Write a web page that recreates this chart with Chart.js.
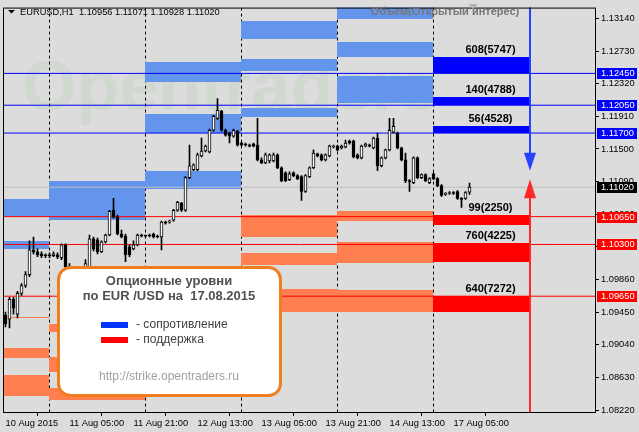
<!DOCTYPE html>
<html lang="ru">
<head>
<meta charset="UTF-8">
<title>EURUSD H1 - опционные уровни</title>
<script src="https://cdn.jsdelivr.net/npm/chart.js"></script>
<style>
  html, body { margin: 0; padding: 0; background: #dcdcdc; }
</style>
</head>
<body>
<canvas id="chart" width="639" height="432"></canvas>
<script>
// hour 0 = 11 Aug 00:00, weekend hours skipped (hour 96 = 17 Aug 00:00)
const firstHour = -11;
const opens = [
  1.09413, 1.09363, 1.09612, 1.09425, 1.09686, 1.09785, 1.09922, 1.10233, 1.10208, 1.10183, 1.10171,
  1.10171, 1.10158, 1.10171, 1.10133, 1.10295, 1.10022, 1.09897, 1.09773, 1.09860, 1.09960, 1.09984, 1.10370,
  1.10357, 1.10208, 1.10332, 1.10419, 1.10730, 1.10643, 1.10432, 1.10407, 1.10270, 1.10245, 1.10295, 1.10419,
  1.10407, 1.10419, 1.10432, 1.10407, 1.10394, 1.10581, 1.10581, 1.10606, 1.10730, 1.10817, 1.10730, 1.11140,
  1.11239, 1.11239, 1.11413, 1.11475, 1.11463, 1.11736, 1.11885, 1.11972, 1.11736, 1.11699, 1.11662, 1.11724,
  1.11575, 1.11562, 1.11550, 1.11562, 1.11550, 1.11363, 1.11326, 1.11351, 1.11351, 1.11426, 1.11264, 1.11202,
  1.11115, 1.11202, 1.11165, 1.11152, 1.10966, 1.11152, 1.11264, 1.11438, 1.11426, 1.11363, 1.11413, 1.11525,
  1.11537, 1.11512, 1.11525, 1.11599, 1.11599, 1.11426, 1.11388, 1.11537, 1.11550, 1.11512, 1.11637, 1.11289,
  1.11388, 1.11488, 1.11711, 1.11699, 1.11512, 1.11363, 1.11102, 1.11078, 1.11388, 1.11140, 1.11177, 1.11078,
  1.11189, 1.11127, 1.11040, 1.10929, 1.10941, 1.10953, 1.10966, 1.10879, 1.10879, 1.10956
];
const highs = [
  1.09450, 1.09637, 1.09637, 1.09711, 1.09810, 1.09960, 1.10345, 1.10394, 1.10245, 1.10208, 1.10183,
  1.10196, 1.10208, 1.10196, 1.10307, 1.10307, 1.10059, 1.09960, 1.09897, 1.09984, 1.10109, 1.10419, 1.10394,
  1.10382, 1.10345, 1.10432, 1.10730, 1.10879, 1.10668, 1.10481, 1.10432, 1.10295, 1.10345, 1.10432, 1.10432,
  1.10419, 1.10432, 1.10444, 1.10419, 1.10593, 1.10593, 1.10606, 1.10742, 1.10842, 1.10829, 1.11152, 1.11550,
  1.11314, 1.11450, 1.11637, 1.11550, 1.11749, 1.11923, 1.12134, 1.11985, 1.11749, 1.11711, 1.11749, 1.11736,
  1.11587, 1.11575, 1.11562, 1.11575, 1.11885, 1.11388, 1.11450, 1.11438, 1.11450, 1.11438, 1.11276, 1.11214,
  1.11214, 1.11214, 1.11177, 1.11165, 1.11177, 1.11276, 1.11488, 1.11450, 1.11438, 1.11438, 1.11550, 1.11550,
  1.11550, 1.11550, 1.11612, 1.11612, 1.11612, 1.11438, 1.11550, 1.11575, 1.11562, 1.11649, 1.11699, 1.11401,
  1.11500, 1.11885, 1.11885, 1.11711, 1.11525, 1.11450, 1.11115, 1.11401, 1.11401, 1.11189, 1.11189, 1.11140,
  1.11202, 1.11140, 1.11053, 1.10953, 1.10966, 1.10966, 1.10978, 1.10891, 1.10966, 1.11071
];
const lows = [
  1.09264, 1.09251, 1.09425, 1.09376, 1.09661, 1.09761, 1.09897, 1.10183, 1.10146, 1.10133, 1.10133,
  1.10133, 1.10146, 1.10121, 1.10109, 1.09984, 1.09835, 1.09711, 1.09686, 1.09810, 1.09935, 1.09960, 1.10220,
  1.10183, 1.10196, 1.10320, 1.10407, 1.10630, 1.10419, 1.10382, 1.10084, 1.10146, 1.10233, 1.10283, 1.10394,
  1.10394, 1.10394, 1.10382, 1.10382, 1.10233, 1.10556, 1.10568, 1.10593, 1.10717, 1.10717, 1.10717, 1.11127,
  1.11227, 1.11227, 1.11401, 1.11463, 1.11450, 1.11724, 1.11873, 1.11724, 1.11662, 1.11575, 1.11649, 1.11537,
  1.11537, 1.11537, 1.11525, 1.11525, 1.11351, 1.11314, 1.11314, 1.11326, 1.11339, 1.11252, 1.11090, 1.11090,
  1.11102, 1.11152, 1.11115, 1.10854, 1.10953, 1.11140, 1.11252, 1.11401, 1.11351, 1.11351, 1.11401, 1.11512,
  1.11475, 1.11500, 1.11512, 1.11562, 1.11388, 1.11376, 1.11376, 1.11525, 1.11525, 1.11500, 1.11227, 1.11276,
  1.11376, 1.11475, 1.11699, 1.11500, 1.11351, 1.11078, 1.10966, 1.11065, 1.11127, 1.11127, 1.11090, 1.11065,
  1.11115, 1.11028, 1.10904, 1.10916, 1.10929, 1.10929, 1.10867, 1.10767, 1.10867, 1.10928
];
const closes = [
  1.09301, 1.09612, 1.09500, 1.09686, 1.09785, 1.09922, 1.10233, 1.10208, 1.10171, 1.10158, 1.10158,
  1.10158, 1.10183, 1.10146, 1.10295, 1.10022, 1.09897, 1.09773, 1.09860, 1.09960, 1.10059, 1.10370, 1.10245,
  1.10208, 1.10332, 1.10419, 1.10717, 1.10643, 1.10432, 1.10394, 1.10171, 1.10171, 1.10295, 1.10419, 1.10407,
  1.10405, 1.10407, 1.10394, 1.10394, 1.10581, 1.10568, 1.10593, 1.10730, 1.10829, 1.10730, 1.11140, 1.11289,
  1.11301, 1.11426, 1.11475, 1.11537, 1.11736, 1.11910, 1.11985, 1.11736, 1.11674, 1.11662, 1.11736, 1.11550,
  1.11550, 1.11550, 1.11537, 1.11537, 1.11363, 1.11326, 1.11426, 1.11426, 1.11426, 1.11264, 1.11102, 1.11102,
  1.11189, 1.11165, 1.11127, 1.10966, 1.11165, 1.11264, 1.11450, 1.11413, 1.11363, 1.11426, 1.11537, 1.11537,
  1.11488, 1.11537, 1.11575, 1.11575, 1.11401, 1.11388, 1.11537, 1.11562, 1.11537, 1.11637, 1.11289, 1.11388,
  1.11488, 1.11736, 1.11786, 1.11512, 1.11363, 1.11102, 1.11090, 1.11388, 1.11140, 1.11177, 1.11102, 1.11127,
  1.11127, 1.11040, 1.10916, 1.10941, 1.10953, 1.10941, 1.10879, 1.10867, 1.10953, 1.11020
];

const hourTicks = [-11, 5, 21, 37, 53, 69, 85, 101];
const hourLabels = ['10 Aug 2015', '11 Aug 05:00', '11 Aug 21:00', '12 Aug 13:00',
  '13 Aug 05:00', '13 Aug 21:00', '14 Aug 13:00', '17 Aug 05:00'];
const dayStarts = [0, 24, 48, 72, 96];
const priceTicks = [1.0822, 1.0863, 1.0904, 1.0945, 1.0986, 1.1027, 1.1068,
  1.1109, 1.1150, 1.1191, 1.1232, 1.1273, 1.1314];

// levels for 17.08.2015
const resistLevels = [1.1245, 1.1205, 1.1170];
const resistTops = [1.12656, 1.12150, 1.11786];
const resistLabels = ['608(5747)', '140(4788)', '56(4528)'];
const supportLevels = [1.1065, 1.1030, 1.0965];
const supportTops = [1.10670, 1.10324, 1.09649];
const supportBottoms = [1.10540, 1.10084, 1.09454];
const supportLabels = ['99(2250)', '760(4225)', '640(7272)'];
const bidPrice = 1.1102;
const todayFrom = 96, todayTo = 120.25;
const arrowHour = 120.125;
const sellArrowTip = 1.11227, buyArrowTip = 1.11119;

// earlier sessions: [fromHour, toHour, low, high]
const pastResist = [
  [-11.375, 0, 1.10643, 1.10867], [-11.375, 0, 1.10245, 1.10345],
  [0, 24, 1.10606, 1.11100],
  [24, 48, 1.12345, 1.12593], [24, 48, 1.11699, 1.11935], [24, 48, 1.10991, 1.11227],
  [48, 72, 1.12879, 1.13103], [48, 72, 1.12482, 1.12631], [48, 72, 1.11898, 1.12010],
  [72, 96, 1.13128, 1.13300], [72, 96, 1.12656, 1.12842], [72, 96, 1.12084, 1.12420]
];
const pastSupport = [
  [-11.375, 0, 1.09370, 1.09390], [-11.375, 0, 1.08879, 1.09003], [-11.375, 0, 1.08400, 1.08655],
  [0, 24, 1.09202, 1.09301], [0, 24, 1.08692, 1.08891], [0, 24, 1.08344, 1.08494],
  [48, 72, 1.10394, 1.10668], [48, 72, 1.10047, 1.10196], [48, 72, 1.09450, 1.09736],
  [72, 96, 1.10593, 1.10717], [72, 96, 1.10071, 1.10332], [72, 96, 1.09450, 1.09724]
];

const axisFont = '9.3px "Liberation Sans"';
const X = (ch, v) => ch.scales.x.getPixelForValue(v);
const Y = (ch, v) => ch.scales.y.getPixelForValue(v);

function zone(c, ch, from, to, lo, hi) {
  const x0 = Math.floor(X(ch, from)), x1 = Math.floor(X(ch, to));
  const y0 = Math.round(Y(ch, hi)), y1 = Math.round(Y(ch, lo));
  c.fillRect(x0, y0, x1 - x0, Math.max(1, y1 - y0));
}

const levelsPlugin = {
  id: 'levels',
  beforeDraw(ch) {
    const c = ch.ctx;
    c.save();
    c.fillStyle = '#dcdcdc';
    c.fillRect(0, 0, ch.width, ch.height);
    c.restore();
  },
  beforeDatasetsDraw(ch) {
    const c = ch.ctx, a = ch.chartArea;
    c.save();
    c.beginPath();
    c.rect(a.left, a.top, a.right - a.left, a.bottom - a.top);
    c.clip();

    // watermark
    c.font = 'bold 70px "Liberation Sans"';
    c.fillStyle = 'rgba(160,200,160,0.2)';
    c.textBaseline = 'alphabetic';
    c.fillText('Opentraders', 22, 110);

    // day separators
    c.strokeStyle = '#000';
    c.lineWidth = 1;
    c.setLineDash([3, 3]);
    dayStarts.forEach(h => {
      const x = Math.floor(X(ch, h)) + 0.5;
      c.beginPath(); c.moveTo(x, a.top); c.lineTo(x, a.bottom); c.stroke();
    });
    c.setLineDash([]);

    c.fillStyle = '#6495ed';
    pastResist.forEach(z => zone(c, ch, z[0], z[1], z[2], z[3]));
    c.fillStyle = '#ff7f50';
    pastSupport.forEach(z => zone(c, ch, z[0], z[1], z[2], z[3]));

    // today's levels
    const lx = (Math.floor(X(ch, todayFrom)) + Math.floor(X(ch, todayTo))) / 2 + 9;
    c.font = 'bold 11px "Liberation Sans"';
    c.textAlign = 'center';
    c.textBaseline = 'middle';
    resistLevels.forEach((lv, i) => {
      c.fillStyle = '#0000ff';
      zone(c, ch, todayFrom, todayTo, lv, resistTops[i]);
      c.fillStyle = '#000';
      c.fillText(resistLabels[i], lx, Y(ch, resistTops[i]) - 7);
    });
    supportLevels.forEach((lv, i) => {
      c.fillStyle = '#ff0000';
      zone(c, ch, todayFrom, todayTo, supportBottoms[i], supportTops[i]);
      c.fillStyle = '#000';
      c.fillText(supportLabels[i], lx, Y(ch, supportTops[i]) - 7);
    });
    c.restore();
  },
  afterDatasetsDraw(ch) {
    const c = ch.ctx, a = ch.chartArea;
    const x = X(ch, arrowHour);
    c.save();
    // sell arrow (blue, down)
    let tip = Y(ch, sellArrowTip);
    c.strokeStyle = '#2840ff'; c.fillStyle = '#2840ff'; c.lineWidth = 2;
    c.beginPath(); c.moveTo(x, a.top); c.lineTo(x, tip - 16); c.stroke();
    c.beginPath(); c.moveTo(x - 6, tip - 18); c.lineTo(x + 6, tip - 18); c.lineTo(x, tip); c.closePath(); c.fill();
    // buy arrow (red, up)
    tip = Y(ch, buyArrowTip);
    c.strokeStyle = '#ff2828'; c.fillStyle = '#ff2828';
    c.beginPath(); c.moveTo(x, a.bottom); c.lineTo(x, tip + 16); c.stroke();
    c.beginPath(); c.moveTo(x - 6, tip + 19); c.lineTo(x + 6, tip + 19); c.lineTo(x, tip); c.closePath(); c.fill();
    c.restore();
  },
  afterDraw(ch) {
    const c = ch.ctx, a = ch.chartArea;
    c.save();
    // frame
    c.strokeStyle = '#000'; c.lineWidth = 1;
    c.strokeRect(a.left - 0.5, a.top + 0.5, a.right - a.left + 1, a.bottom - a.top);

    // price boxes on the axis
    c.font = axisFont; c.textAlign = 'left'; c.textBaseline = 'middle';
    const tag = (p, bg) => {
      const y = Math.round(Y(ch, p));
      c.fillStyle = bg; c.fillRect(a.right + 2, y - 5, 40, 11);
      c.fillStyle = '#fff'; c.fillText(p.toFixed(5), a.right + 6, y + 0.5);
    };
    resistLevels.forEach(p => tag(p, '#0000ff'));
    supportLevels.forEach(p => tag(p, '#ff0000'));
    tag(bidPrice, '#000');

    // header
    c.fillStyle = '#000';
    c.beginPath(); c.moveTo(8, 10); c.lineTo(15, 10); c.lineTo(11.5, 13.5); c.closePath(); c.fill();
    c.fillText('EURUSD,H1  1.10956 1.11071 1.10928 1.11020', 20, 12);

    c.fillStyle = '#b4b4b4';
    c.beginPath(); c.moveTo(468, 4); c.lineTo(478, 4); c.lineTo(473, 9); c.closePath(); c.fill();
    c.font = 'bold 11px "Liberation Sans"';
    c.fillStyle = '#777';
    c.textAlign = 'center';
    c.fillText('Объем(Открытый интерес)', 445, 12);

    // info box
    c.beginPath();
    c.roundRect(58.5, 267.5, 222, 128, 12);
    c.fillStyle = '#fff'; c.fill();
    c.lineWidth = 3; c.strokeStyle = '#f07d1e'; c.stroke();
    c.fillStyle = '#505050';
    c.font = 'bold 13px "Liberation Sans"';
    c.fillText('Опционные уровни', 169, 281);
    c.fillText('по EUR /USD на  17.08.2015', 169, 296);
    c.fillStyle = '#0033ff'; c.fillRect(101, 322, 27, 6);
    c.fillStyle = '#ff0000'; c.fillRect(101, 337, 27, 6);
    c.font = '12px "Liberation Sans"';
    c.fillStyle = '#404040'; c.textAlign = 'left';
    c.fillText('- сопротивление', 136, 325);
    c.fillText('- поддержка', 136, 340);
    c.fillStyle = '#a0a0a0'; c.textAlign = 'center';
    c.fillText('http://strike.opentraders.ru', 169, 377);
    c.restore();
  }
};

const hours = opens.map((_, i) => firstHour + i);
const xMin = -11.375, xMax = 136.375;
const flat = v => [{ x: xMin, y: v }, { x: xMax, y: v }];
const lineSet = (v, color) => ({
  type: 'line', data: flat(v), borderColor: color, borderWidth: 1,
  pointRadius: 0, order: 5
});

new Chart(document.getElementById('chart'), {
  type: 'bar',
  data: {
    datasets: [
      ...resistLevels.map(v => lineSet(v, '#0000ff')),
      ...supportLevels.map(v => lineSet(v, '#ff0000')),
      lineSet(bidPrice, '#bebebe'),
      {
        data: hours.map((h, i) => ({ x: h, y: [lows[i], highs[i]] })),
        backgroundColor: '#000', barThickness: 1, grouped: false, order: 3
      },
      {
        data: hours.map((h, i) => ({ x: h, y: [Math.min(opens[i], closes[i]), Math.max(opens[i], closes[i])] })),
        backgroundColor: hours.map((h, i) => closes[i] >= opens[i] ? '#fff' : '#000'),
        borderColor: '#000', borderWidth: 1, borderSkipped: false,
        barThickness: 3, minBarLength: 1, grouped: false, order: 2
      }
    ]
  },
  options: {
    responsive: false,
    animation: false,
    layout: { padding: { left: 4, top: 3, right: 0, bottom: 0 } },
    plugins: { legend: { display: false }, tooltip: { enabled: false } },
    scales: {
      x: {
        type: 'linear', min: xMin, max: xMax, offset: false,
        afterBuildTicks: s => { s.ticks = hourTicks.map(v => ({ value: v })); },
        afterFit: s => { s.height = 20; },
        ticks: {
          align: 'start', autoSkip: false, maxRotation: 0, padding: 2, color: '#000',
          font: { family: 'Liberation Sans', size: 9.3 },
          callback: (v, i) => hourLabels[i]
        },
        grid: { drawOnChartArea: false, tickLength: 4, color: '#000' },
        border: { display: false }
      },
      y: {
        position: 'right', min: 1.08195, max: 1.13277,
        afterBuildTicks: s => { s.ticks = priceTicks.map(v => ({ value: v })); },
        afterFit: s => { s.width = 44; },
        ticks: {
          padding: 2, color: '#000',
          font: { family: 'Liberation Sans', size: 9.3 },
          callback: v => v.toFixed(5)
        },
        grid: { drawOnChartArea: false, tickLength: 4, color: '#000' },
        border: { display: false }
      }
    }
  },
  plugins: [levelsPlugin]
});
</script>
</body>
</html>
